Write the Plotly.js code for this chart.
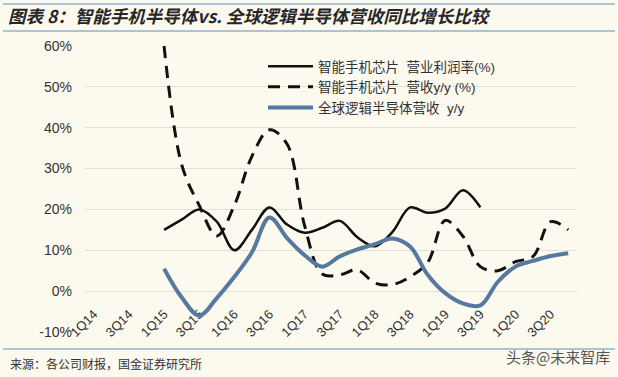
<!DOCTYPE html>
<html>
<head>
<meta charset="utf-8">
<script src="https://cdn.plot.ly/plotly-3.0.1.min.js"></script>
<style>html,body{margin:0;padding:0;background:#fcf9ef;}#chart{width:618px;height:377px;}</style>
</head>
<body>
<div id="chart"></div>
<script>
const quarters = ['1Q14','2Q14','3Q14','4Q14','1Q15','2Q15','3Q15','4Q15','1Q16','2Q16','3Q16','4Q16',
  '1Q17','2Q17','3Q17','4Q17','1Q18','2Q18','3Q18','4Q18','1Q19','2Q19','3Q19','4Q19','1Q20','2Q20','3Q20','4Q20'];
const tickLabels = ['1Q14','3Q14','1Q15','3Q15','1Q16','3Q16','1Q17','3Q17','1Q18','3Q18','1Q19','3Q19','1Q20','3Q20'];
const yTicks = [-10,0,10,20,30,40,50,60];
const yTickText = ['-10%','0%','10%','20%','30%','40%','50%','60%'];

const seriesNames = ['智能手机芯片  营业利润率(%)','智能手机芯片  营收y/y (%)','全球逻辑半导体营收  y/y'];
// smartphone chip operating margin (%), 1Q14..4Q20
const chipMargin = [null,null,null,null,15,17.5,20,17,10,15,20.5,16.3,14.3,15.5,17.2,13.2,11,14.5,20.5,19.2,20.2,24.7,20.5,null,null,null,null,null];
// smartphone chip revenue y/y (%)
const chipRevYoY = [null,null,null,null,60,31,21,13.5,21,33,39.5,36,16,4.2,4,5.2,2,1.6,3.5,7,17.3,13.5,6,5,7.2,8.5,17,15];
// global logic semiconductor revenue y/y (%)
const logicRevYoY = [null,null,null,null,5.5,-1.5,-6,-1.7,3.5,9.5,18,13,8.8,6,8.5,10.2,11.5,12.9,10.9,4,-0.5,-3,-3.5,2.3,6,7.4,8.6,9.3];

const W = 618, H = 377, mL = 50, mR = 41, mT = 46, mB = 45;
const pw = W - mL - mR, ph = H - mT - mB;
const px = x => (x - mL) / pw;
const py = y => (H - mB - y) / ph;

const latin = 'Liberation Sans, Arial, sans-serif';
const cjk = 'Noto Sans CJK SC, sans-serif';
const mixed = 'Liberation Sans, Noto Sans CJK SC, sans-serif';

const traces = [
  {x: quarters, y: chipMargin, name: seriesNames[0], type: 'scatter', mode: 'lines',
   line: {color: '#111111', width: 2.5, shape: 'spline', smoothing: 1}},
  {x: quarters, y: chipRevYoY, name: seriesNames[1], type: 'scatter', mode: 'lines',
   line: {color: '#111111', width: 3, dash: '12px,8px', shape: 'spline', smoothing: 1}},
  {x: quarters, y: logicRevYoY, name: seriesNames[2], type: 'scatter', mode: 'lines',
   line: {color: '#56799f', width: 4, shape: 'spline', smoothing: 1}}
];

const layout = {
  width: W, height: H,
  margin: {l: mL, r: mR, t: mT, b: mB},
  paper_bgcolor: '#fcf9ef', plot_bgcolor: '#fcf9ef',
  showlegend: true,
  title: {text: '图表 8：智能手机半导体vs. 全球逻辑半导体营收同比增长比较',
    x: 8 / W, xanchor: 'left', y: 1 - 17 / H, yanchor: 'middle',
    font: {family: cjk, size: 17.5, color: '#262626', weight: 'bold', style: 'italic'}},
  xaxis: {type: 'category', categoryorder: 'array', categoryarray: quarters,
    domain: [px(85), 1], range: [-0.5, 27.5],
    anchor: 'free', position: 10 / 70,
    tickvals: tickLabels, ticktext: tickLabels, tickangle: -45,
    ticks: '', showline: false, showgrid: false, zeroline: false,
    ticklabelstandoff: 12, layer: 'below traces',
    tickfont: {family: latin, size: 13, color: '#333333'}},
  yaxis: {range: [-10, 60], tickvals: yTicks, ticktext: yTickText,
    showgrid: true, gridcolor: '#e2dfd6', gridwidth: 1, zeroline: false, showline: false,
    ticks: '', ticklabelstandoff: 12,
    tickfont: {family: latin, size: 14, color: '#333333'}},
  legend: {x: px(263), y: py(51), xanchor: 'left', yanchor: 'top',
    bgcolor: 'rgba(0,0,0,0)', itemwidth: 45, tracegroupgap: 0,
    font: {family: mixed, size: 13.5, color: '#333333'}},
  shapes: [
    {type: 'line', xref: 'paper', yref: 'paper', x0: px(3), x1: px(615), y0: py(4), y1: py(4), line: {color: '#8fb2cc', width: 1.5}},
    {type: 'line', xref: 'paper', yref: 'paper', x0: px(3), x1: px(615), y0: py(31), y1: py(31), line: {color: '#8fb2cc', width: 1.5}},
    {type: 'line', xref: 'paper', yref: 'paper', x0: px(3), x1: px(615), y0: py(349), y1: py(349), line: {color: '#8fb2cc', width: 1.5}}
  ],
  annotations: [
    {text: '来源：各公司财报，国金证券研究所', xref: 'paper', yref: 'paper', x: px(8), y: py(363),
     xanchor: 'left', yanchor: 'middle', showarrow: false, font: {family: cjk, size: 12, color: '#333333'}},
    {text: '头条@未来智库', xref: 'paper', yref: 'paper', x: px(612), y: py(356),
     xanchor: 'right', yanchor: 'middle', showarrow: false, font: {family: cjk, size: 15, color: '#555555'}}
  ]
};

Plotly.newPlot('chart', traces, layout, {displayModeBar: false, staticPlot: true});
</script>
</body>
</html>
